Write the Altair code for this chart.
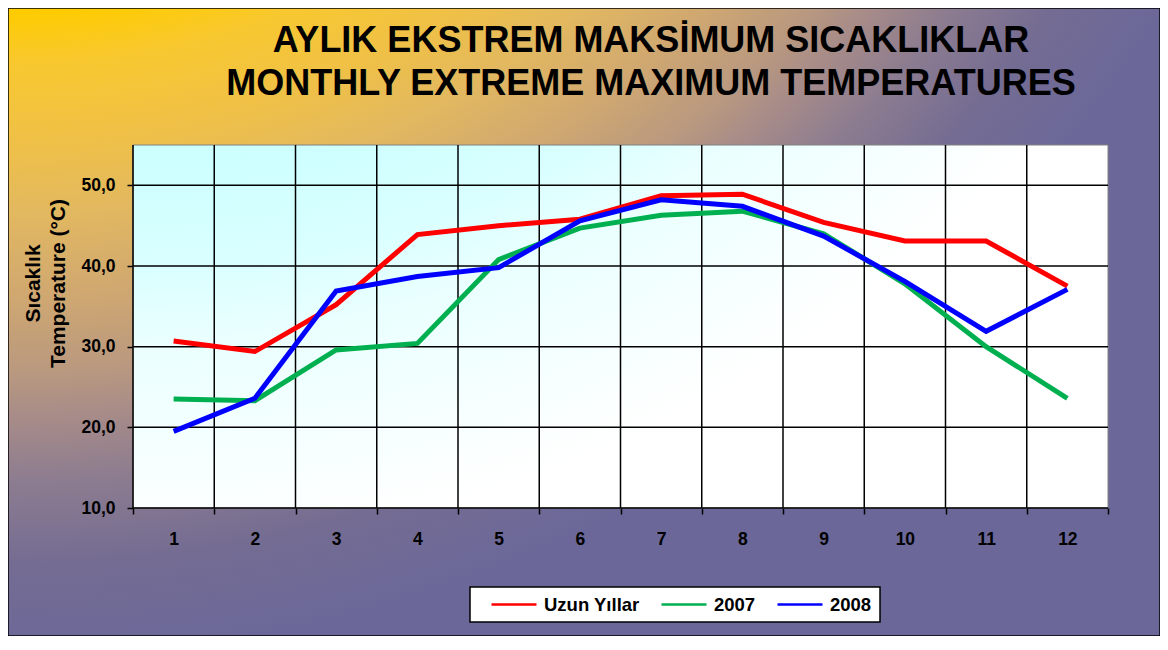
import altair as alt
import pandas as pd

# ---- data ----
months = list(range(1, 13))
uzun_yillar = [30.7, 29.4, 35.2, 43.9, 45.0, 45.8, 48.7, 48.9, 45.4, 43.1, 43.1, 37.5]
y2007 = [23.5, 23.3, 29.6, 30.4, 40.8, 44.7, 46.3, 46.8, 44.0, 37.8, 30.0, 23.6]
y2008 = [19.5, 23.6, 36.9, 38.7, 39.8, 45.6, 48.2, 47.4, 43.7, 38.1, 31.9, 37.1]
series_names = ["Uzun Yıllar", "2007", "2008"]
series_colors = ["#FF0000", "#00B050", "#0000FF"]
y_ticks = [10, 20, 30, 40, 50]
x_bounds = [0.5 + i for i in range(13)]
title_lines = ["AYLIK EKSTREM MAKSİMUM SICAKLIKLAR", "MONTHLY EXTREME MAXIMUM TEMPERATURES"]
y_title = ["Sıcaklık", "Temperature (°C)"]

# ---- layout (whole canvas is the view; plot area set via scale ranges) ----
CW, CH = 1152, 628
PX0, PX1, PY0, PY1 = 125, 1100, 137, 500
FONT = "Liberation Sans"

rows = []
for name, vals in zip(series_names, [uzun_yillar, y2007, y2008]):
    for m, v in zip(months, vals):
        rows.append({"month": m, "value": v, "series": name})
df = pd.DataFrame(rows)

xscale = alt.Scale(domain=[0.5, 12.5], range=[PX0, PX1], nice=False, zero=False)
yscale = alt.Scale(domain=[10, 55], range=[PY1, PY0], nice=False, zero=False)

# circular gradient centred above the top-left corner (coords normalised to max(w,h) square)
bg_expr = (
    "{gradient: 'radial', x1: 0, y1: -0.38, r1: 0, x2: 0, y2: -0.38, r2: 1.172, stops: ["
    "{offset: 0, color: '#FFCC00'}, {offset: 0.52, color: '#FFCC00'},"
    "{offset: 0.56, color: '#F8C830'}, {offset: 0.62, color: '#EFC048'},"
    "{offset: 0.67, color: '#E2B860'}, {offset: 0.73, color: '#D0A870'},"
    "{offset: 0.79, color: '#B89880'}, {offset: 0.82, color: '#A88C88'},"
    "{offset: 0.87, color: '#8C7C90'}, {offset: 0.93, color: '#746C92'},"
    "{offset: 1.0, color: '#6B6899'}]}"
)

inner_fill = {
    "gradient": "radial", "x1": 0, "y1": -0.507, "r1": 0, "x2": 0, "y2": -0.507, "r2": 1.231,
    "stops": [
        {"offset": 0.0, "color": "#CCFFFF"},
        {"offset": 0.667, "color": "#CCFFFF"},
        {"offset": 0.70, "color": "#D0FFFF"},
        {"offset": 0.77, "color": "#DAFFFF"},
        {"offset": 0.83, "color": "#EAFFFF"},
        {"offset": 0.90, "color": "#F3FFFF"},
        {"offset": 0.95, "color": "#F9FFFF"},
        {"offset": 1.0, "color": "#FFFFFF"},
    ],
}
plot_bg = alt.Chart(alt.Data(values=[{}])).mark_rect(
    fill=inner_fill, stroke="#808080", strokeWidth=1
).encode(
    x=alt.X(datum=0.5, scale=xscale), x2=alt.X2(datum=12.5),
    y=alt.Y(datum=10, scale=yscale), y2=alt.Y2(datum=55),
)

hgrid = alt.Chart(alt.Data(values=[{"v": v} for v in y_ticks])).mark_rule(
    color="black", strokeWidth=1.5
).encode(
    y=alt.Y("v:Q", scale=yscale),
    x=alt.X(datum=0.5, scale=xscale), x2=alt.X2(datum=12.5),
    strokeWidth=alt.condition("datum.v == 10", alt.value(2), alt.value(1.5)),
)

vgrid = alt.Chart(alt.Data(values=[{"v": v} for v in x_bounds[:-1]])).mark_rule(
    color="black", strokeWidth=1.5
).encode(
    x=alt.X("v:Q", scale=xscale),
    y=alt.Y(datum=10, scale=yscale), y2=alt.Y2(datum=55),
    strokeWidth=alt.condition("datum.v == 0.5", alt.value(2), alt.value(1.5)),
)

x_axis = alt.Axis(
    values=x_bounds,
    labelExpr="datum.value < 12 ? format(datum.value + 0.5, 'd') : ''",
    labelOffset=(PX1 - PX0) / 24,
    offset=-(CH - PY1),
    domain=False,
    tickSize=6, tickColor="black", tickWidth=1.5,
    grid=False, title=None,
    labelFont=FONT, labelFontSize=17.5, labelFontWeight="bold", labelColor="black",
    labelPadding=16, labelFlush=False, labelOverlap=False,
)
y_axis = alt.Axis(
    values=y_ticks,
    labelExpr="replace(format(datum.value, '.1f'), '.', ',')",
    offset=-PX0,
    domain=False,
    tickSize=6, tickColor="black", tickWidth=1.5,
    grid=False,
    labelFont=FONT, labelFontSize=17.5, labelFontWeight="bold", labelColor="black",
    labelPadding=12, labelFlush=False, labelOverlap=False,
    title=y_title, titleFont=FONT, titleFontSize=21, titleFontWeight="bold",
    titleColor="black", titleAngle=270, titleAlign="center", titleBaseline="bottom",
    titleX=-90, titleY=275, titleLineHeight=25,
)

lines = alt.Chart(df).mark_line(strokeWidth=5, strokeJoin="miter").encode(
    x=alt.X("month:Q", scale=xscale, axis=x_axis),
    y=alt.Y("value:Q", scale=yscale, axis=y_axis),
    color=alt.Color(
        "series:N",
        scale=alt.Scale(domain=series_names, range=series_colors),
        sort=series_names,
        legend=alt.Legend(
            title=None, orient="none", direction="horizontal",
            legendX=462, legendY=579,
            fillColor="white", strokeColor="black",
            padding=8, columnPadding=8, clipHeight=19,
            symbolType="stroke", symbolSize=2025, symbolStrokeWidth=2.5,
            symbolOffset=12,
            labelFont=FONT, labelFontSize=18.5, labelFontWeight="bold", labelColor="black",
            labelOffset=6,
        ),
    ),
    order=alt.Order("month:Q"),
)

# draw order: backgrounds/grid first, lines on top
chart = alt.layer(plot_bg, hgrid, vgrid, lines).properties(
    width=CW, height=CH,
    title=alt.TitleParams(
        text=title_lines, font=FONT, fontSize=36, fontWeight="bold", color="black",
        anchor="middle", frame="group", dx=67, offset=-131, baseline="bottom",
        lineHeight=43,
    ),
    padding=0,
    autosize=alt.AutoSizeParams(type="none"),
    background="white",
).configure_view(
    fill={"expr": bg_expr}, stroke="black", strokeWidth=1.5
).configure_legend(strokeWidth=1.5)

chart.save("out.html", embed_options={"renderer": "svg", "actions": False})
